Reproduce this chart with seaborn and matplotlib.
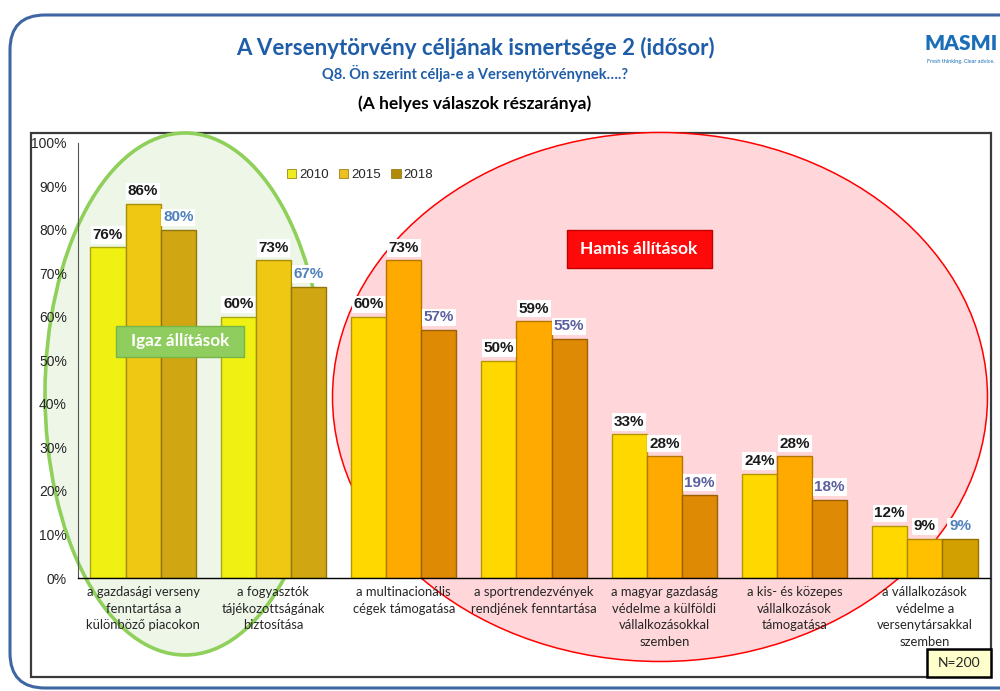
import numpy as np
import pandas as pd
import matplotlib
matplotlib.use("Agg")
import matplotlib.pyplot as plt
import seaborn as sns
from matplotlib.patches import Ellipse, Rectangle, FancyBboxPatch, Patch

# --- data ---
CATEGORIES = [
    "a gazdasági verseny\nfenntartása a\nkülönböző piacokon",
    "a fogyasztók\ntájékozottságának\nbiztosítása",
    "a multinacionális\ncégek támogatása",
    "a sportrendezvények\nrendjének fenntartása",
    "a magyar gazdaság\nvédelme a külföldi\nvállalkozásokkal\nszemben",
    "a kis- és közepes\nvállalkozások\ntámogatása",
    "a vállalkozások\nvédelme a\nversenytársakkal\nszemben",
]
YEARS = ["2010", "2015", "2018"]
VALUES_2010 = [76, 60, 60, 50, 33, 24, 12]
VALUES_2015 = [86, 73, 73, 59, 28, 28, 9]
VALUES_2018 = [80, 67, 57, 55, 19, 18, 9]

# bar colours per category group (true statements / false statements / last)
COLORS_TRUE = ["#F0F012", "#EEC812", "#D0A712"]
COLORS_FALSE = ["#FFD800", "#FFAA00", "#DE8A05"]
COLORS_LAST = ["#FFD800", "#FFC000", "#D2A000"]
BAR_COLORS = [COLORS_TRUE, COLORS_TRUE, COLORS_FALSE, COLORS_FALSE,
              COLORS_FALSE, COLORS_FALSE, COLORS_LAST]
LABEL_2018_COLORS = ["#4F81BD", "#4F81BD", "#5B5F9E", "#5B5F9E",
                     "#5B5F9E", "#5B5F9E", "#4F81BD"]

W, H = 1000, 691
CAL = ["Lato", "DejaVu Sans"]


def fx(x):
    return x / W


def fy(y):
    return 1 - y / H


df = pd.DataFrame({
    "category": CATEGORIES * 3,
    "year": np.repeat(YEARS, len(CATEGORIES)),
    "value": VALUES_2010 + VALUES_2015 + VALUES_2018,
})

sns.set_style("white")
plt.rcParams["font.family"] = ["Liberation Sans", "DejaVu Sans"]

fig = plt.figure(figsize=(W / 100, H / 100), dpi=100)
fig.patch.set_facecolor("white")

# outer rounded frame (runs off the right edge)
fig.add_artist(FancyBboxPatch((fx(10), fy(688)), 1.2, (688 - 15) / H,
                              boxstyle="round,pad=0,rounding_size=0.035",
                              transform=fig.transFigure, fc="white",
                              ec="#3E66A3", lw=2.2, zorder=-3, mutation_aspect=W / H))
# chart box
fig.add_artist(Rectangle((fx(31), fy(677)), fx(991 - 31), (677 - 133) / H,
                         transform=fig.transFigure, fc="white", ec="#3A3A3A",
                         lw=1.6, zorder=-2))

ax = fig.add_axes([fx(78), fy(578), fx(990 - 78), (578 - 143) / H])
ax.set_facecolor("none")

# highlighted ellipses behind the bars
ax.add_patch(Ellipse((fx(185), fy(394)), fx(280), 522 / H, transform=fig.transFigure,
                     fc="#EEF6E8", ec="#8ED05A", lw=2.6, clip_on=False, zorder=0.5))
ax.add_patch(Ellipse((fx(660), fy(397)), fx(655), 529 / H, transform=fig.transFigure,
                     fc="#FFD6D9", ec="#FF0000", lw=1.1, clip_on=False, zorder=0.4))

sns.barplot(data=df, x="category", y="value", hue="year", hue_order=YEARS,
            order=CATEGORIES, width=0.81, gap=0, ax=ax, legend=False,
            palette=COLORS_FALSE, saturation=1, zorder=2)

for j, cont in enumerate(ax.containers):
    for i, bar in enumerate(cont):
        c = BAR_COLORS[i][j]
        bar.set_facecolor(c)
        bar.set_edgecolor(tuple(np.clip(np.array(matplotlib.colors.to_rgb(c)) * 0.7, 0, 1)))
        bar.set_linewidth(1.0)
    labels = ax.bar_label(cont, labels=[f"{v:.0f}%" for v in cont.datavalues],
                          padding=4, fontsize=11, fontweight="bold")
    for i, t in enumerate(labels):
        t.set_color(LABEL_2018_COLORS[i] if j == 2 else "#1A1A1A")
        t.set_bbox(dict(fc="white", ec="none", pad=1.2))
        t.set_zorder(3)

ax.set_ylim(0, 100)
ax.set_xlim(-0.5, len(CATEGORIES) - 0.5)
ax.set_yticks(range(0, 101, 10))
ax.set_yticklabels([f"{v}%" for v in range(0, 101, 10)], fontsize=10)
ax.tick_params(axis="y", direction="out", length=4, width=0.8, color="#555555", pad=4)
ax.tick_params(axis="x", length=0, pad=6)
for t in ax.get_xticklabels():
    t.set_fontfamily(CAL)
    t.set_fontsize(9.4)
    t.set_linespacing(1.45)
ax.set_xlabel("")
ax.set_ylabel("")
ax.spines[["top", "right"]].set_visible(False)
ax.spines["left"].set_color("#555555")
ax.spines["bottom"].set_color("black")
ax.spines["bottom"].set_linewidth(1.0)

# legend
handles = [Patch(fc=c, ec="#8A7000", lw=0.5) for c in ["#ECEC20", "#EEC020", "#B08A08"]]
fig.legend(handles, YEARS, loc="center", bbox_to_anchor=(fx(360), fy(175)), ncol=3,
           frameon=False, fontsize=9.5, handlelength=0.7, handleheight=0.7,
           handletextpad=0.2, columnspacing=0.8)

# annotation boxes
fig.add_artist(Rectangle((fx(116), fy(357)), fx(128), 31 / H, transform=fig.transFigure,
                         fc="#8FCD5E", ec="#78B548", lw=1, zorder=5))
fig.text(fx(180), fy(341), "Igaz állítások", ha="center", va="center", color="white",
         fontsize=12.3, fontweight="bold", family=CAL, zorder=6)
fig.add_artist(Rectangle((fx(567), fy(268)), fx(145), 38 / H, transform=fig.transFigure,
                         fc="#FF0A0A", ec="#C00000", lw=1, zorder=5))
fig.text(fx(639), fy(249), "Hamis állítások", ha="center", va="center", color="white",
         fontsize=12.5, fontweight="bold", family=CAL, zorder=6)

# N box
fig.add_artist(Rectangle((fx(927), fy(677)), fx(64), 28 / H, transform=fig.transFigure,
                         fc="#FFFFCC", ec="black", lw=1.8, zorder=5))
fig.text(fx(959), fy(663), "N=200", ha="center", va="center", fontsize=10,
         family=CAL, zorder=6)

# titles
fig.text(fx(475), fy(48), "A Versenytörvény céljának ismertsége 2 (idősor)", ha="center",
         va="center", fontsize=16, fontweight="bold", color="#1F5DA8", family=CAL)
fig.text(fx(475), fy(73), "Q8. Ön szerint célja-e a Versenytörvénynek….?", ha="center",
         va="center", fontsize=10.5, fontweight="bold", color="#1F5DA8", family=CAL)
fig.text(fx(475), fy(104), "(A helyes válaszok részaránya)", ha="center", va="center",
         fontsize=12.5, fontweight="bold", color="black", family=CAL)

# logo
fig.text(fx(961), fy(44), "MASMI", ha="center", va="center", fontsize=15,
         fontweight="heavy", color="#1A6FB8", family=CAL)
fig.text(fx(961), fy(62), "Fresh thinking. Clear advice.", ha="center", va="center",
         fontsize=4, color="#1A6FB8", family=CAL)

fig.savefig("out.png", dpi=100)
